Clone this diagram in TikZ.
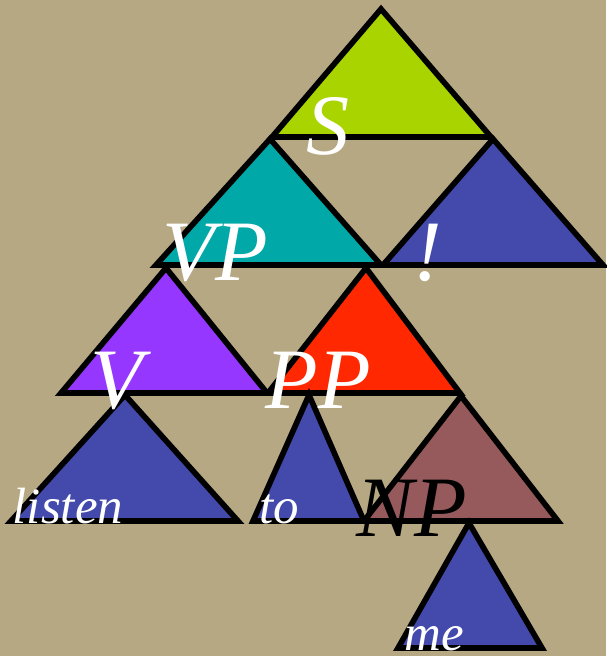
\documentclass[tikz,border=0pt]{standalone}
\usepackage{fontspec}
\setmainfont{Liberation Serif}
\definecolor{bgTan}{RGB}{181,168,131}
\definecolor{sFill}{RGB}{170,212,0}
\definecolor{vpFill}{RGB}{0,168,168}
\definecolor{blueFill}{RGB}{68,74,172}
\definecolor{vFill}{RGB}{150,55,255}
\definecolor{ppFill}{RGB}{255,40,0}
\definecolor{npFill}{RGB}{150,90,92}
\tikzset{
  tri/.style={draw=black, line width=3.2pt, line join=miter},
  biglbl/.style={text=white, font=\fontsize{49}{49}\selectfont\itshape, inner sep=0pt, anchor=base},
  wordlbl/.style={text=white, font=\fontsize{29}{29}\selectfont\itshape, inner sep=0pt, anchor=base},
}
\begin{document}
\begin{tikzpicture}[x=0.02cm,y=-0.02cm]
% background
\fill[bgTan] (0,0) rectangle (606,656);
\useasboundingbox (0,0) rectangle (606,656);
% triangles
\filldraw[tri, fill=sFill]    (381,9)   -- (491,137) -- (272,137) -- cycle;
\filldraw[tri, fill=vpFill]   (270,139) -- (381,265) -- (156,265) -- cycle;
\filldraw[tri, fill=blueFill] (493,139) -- (603,265) -- (383,265) -- cycle;
\filldraw[tri, fill=vFill]    (166,268) -- (267,393) -- (61,393) -- cycle;
\filldraw[tri, fill=ppFill]   (366,268) -- (460,393) -- (268,393) -- cycle;
\filldraw[tri, fill=blueFill] (125,395) -- (238,521) -- (11,521) -- cycle;
\filldraw[tri, fill=blueFill] (309,395) -- (364,521) -- (253,521) -- cycle;
\filldraw[tri, fill=npFill]   (461,396) -- (558,521) -- (364,521) -- cycle;
\filldraw[tri, fill=blueFill] (469,523) -- (542,648) -- (398,648) -- cycle;
% labels
\node[biglbl] (s)    at (328,154) {S};
\node[biglbl] (vp)   at (215,280) {VP};
\node[biglbl] (excl) at (428,280) {!};
\node[biglbl] (v)    at (117,408) {V};
\node[biglbl] (pp)   at (318,408) {PP};
\node[wordlbl] (listen) at (68,523) {listen};
\node[wordlbl] (to)     at (279,523) {to};
\node[biglbl, text=black] (np) at (412,536) {NP};
\node[wordlbl] (me)     at (434,650) {me};
\end{tikzpicture}
\end{document}
